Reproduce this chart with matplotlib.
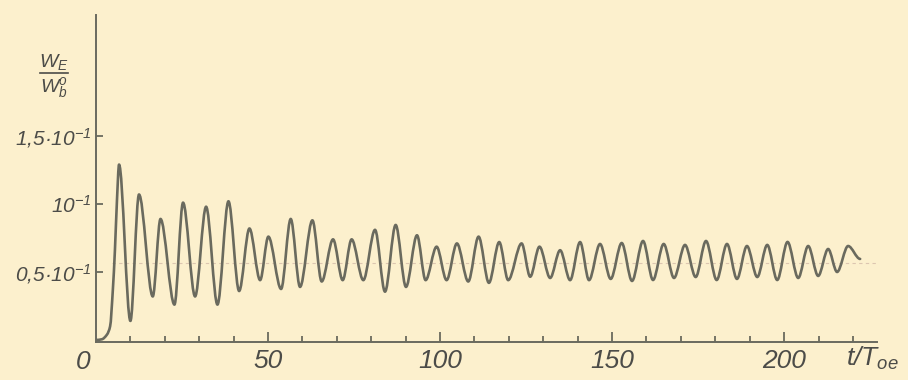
import matplotlib
matplotlib.use('Agg')
import matplotlib.pyplot as plt
import matplotlib.font_manager as fm
from matplotlib.lines import Line2D
from matplotlib.path import Path
from matplotlib.patches import PathPatch


# Data: time in units of T_oe, energy ratio W_E / W_b^0
# (start of the rise, then peaks and troughs one after the other)
t_vals = [0, 1.7, 3.2, 4.1, 4.9, 5.5, 6.1, 6.7,
          10.0, 12.5, 16.5, 18.75, 22.8, 25.3, 28.8, 32.0, 35.3, 38.5,
          41.6, 44.6, 47.7, 50.1, 53.8, 56.6, 59.3, 62.9, 65.6, 68.9,
          71.7, 74.3, 77.7, 81.1, 84.0, 87.1, 90.1, 93.3, 95.8, 99.0,
          101.9, 104.9, 108.2, 111.2, 114.2, 117.2, 119.8, 123.7, 126.2, 128.9,
          132.0, 134.9, 137.8, 140.7, 143.3, 146.5, 149.6, 152.8, 155.8, 159.0,
          161.9, 165.0, 168.0, 171.2, 174.3, 177.3, 180.4, 183.4, 186.3, 189.2,
          192.2, 195.1, 198.0, 201.0, 204.1, 207.0, 209.9, 212.8, 215.4, 218.6,
          222.1]
w_vals = [0, 0.0005, 0.004, 0.010, 0.037, 0.066, 0.103, 0.129,
          0.014, 0.107, 0.032, 0.089, 0.026, 0.101, 0.032, 0.098, 0.026, 0.102,
          0.036, 0.082, 0.044, 0.076, 0.0375, 0.089, 0.039, 0.088, 0.043, 0.074,
          0.044, 0.074, 0.044, 0.081, 0.0355, 0.0846, 0.039, 0.077, 0.044, 0.0686,
          0.044, 0.071, 0.043, 0.076, 0.042, 0.072, 0.044, 0.071, 0.0465, 0.0686,
          0.0456, 0.066, 0.044, 0.072, 0.044, 0.0706, 0.0449, 0.0713, 0.0434, 0.0728,
          0.0441, 0.0706, 0.0456, 0.0699, 0.0463, 0.0728, 0.0441, 0.0706, 0.0449, 0.0691,
          0.0463, 0.0699, 0.0441, 0.0721, 0.0456, 0.0691, 0.0471, 0.0669, 0.050, 0.0691,
          0.0596]

mean_level = 0.0566

x_major = [50, 100, 150, 200]
x_labels = ['50', '100', '150', '200']
x_minor = [10, 20, 30, 40, 60, 70, 80, 90, 110, 120, 130, 140,
           160, 170, 180, 190, 210, 220]
y_ticks = [0.05, 0.1, 0.15]
y_labels = ['0,5·10$^{-1}$', '10$^{-1}$', '1,5·10$^{-1}$']

# colours of the old paper scan
paper = '#fcf0cd'
ink = '#6a6a5e'
text_ink = '#4c4c48'

# narrow hand-lettered look if we have it
names = {f.name for f in fm.fontManager.ttflist}
fam = 'Liberation Sans Narrow' if 'Liberation Sans Narrow' in names else 'Liberation Sans'
plt.rcParams['font.family'] = [fam, 'DejaVu Sans']
plt.rcParams['font.style'] = 'italic'
plt.rcParams['mathtext.fontset'] = 'custom'
plt.rcParams['mathtext.rm'] = fam + ':italic'
plt.rcParams['mathtext.it'] = fam + ':italic'
plt.rcParams['mathtext.default'] = 'it'

fig = plt.figure(figsize=(9.08, 3.8), dpi=100)
fig.patch.set_facecolor(paper)
ax = fig.add_axes([96 / 908, 38 / 380, 781 / 908, 327 / 380])
ax.set_facecolor(paper)

# faint mean line
ax.axhline(mean_level, xmin=0.02, color='#dcc6b0', lw=0.8, ls=(0, (3, 3)), zorder=1)

# draw the curve through the read points as smooth bezier pieces
# (flat tangent at the peaks/troughs, like the hand drawn original)
n = len(t_vals)
slopes = []
for i in range(n):
    if i == 0 or i == n - 1:
        slopes.append(0.0)
        continue
    d1 = (w_vals[i] - w_vals[i - 1]) / (t_vals[i] - t_vals[i - 1])
    d2 = (w_vals[i + 1] - w_vals[i]) / (t_vals[i + 1] - t_vals[i])
    if d1 * d2 <= 0:
        slopes.append(0.0)
    else:
        slopes.append(2 / (1 / d1 + 1 / d2))

verts = [(t_vals[0], w_vals[0])]
codes = [Path.MOVETO]
for i in range(n - 1):
    h = (t_vals[i + 1] - t_vals[i]) / 3
    verts += [(t_vals[i] + h, w_vals[i] + slopes[i] * h),
              (t_vals[i + 1] - h, w_vals[i + 1] - slopes[i + 1] * h),
              (t_vals[i + 1], w_vals[i + 1])]
    codes += [Path.CURVE4] * 3
curve = PathPatch(Path(verts, codes), facecolor='none', edgecolor=ink,
                  lw=1.9, joinstyle='round', capstyle='round', zorder=3)
ax.add_patch(curve)

ax.set_xlim(0, 227)
ax.set_ylim(-0.0015, 0.239)

# only left and bottom axis
for s in ['top', 'right']:
    ax.spines[s].set_visible(False)
for s in ['left', 'bottom']:
    ax.spines[s].set_color(ink)
    ax.spines[s].set_linewidth(1.4)

ax.set_xticks(x_major)
ax.set_xticklabels(x_labels)
ax.set_xticks(x_minor, minor=True)
ax.set_yticks(y_ticks)
ax.set_yticklabels(y_labels)

ax.tick_params(axis='x', which='major', direction='in', length=7, width=1.3,
               color=ink, labelsize=19, labelcolor=text_ink, pad=5)
ax.tick_params(axis='x', which='minor', direction='in', length=4, width=1.3, color=ink)
ax.tick_params(axis='y', direction='in', length=5, width=1.3,
               color=ink, labelsize=15, labelcolor=text_ink, pad=3)

# origin label and axis names
fig.text(83 / 908, 1 - 362 / 380, '0', fontsize=19, color=text_ink,
         ha='center', va='center')
fig.text(872 / 908, 1 - 358 / 380, '$t/T_{oe}$', fontsize=19, color=text_ink,
         ha='center', va='center')
fig.text(54 / 908, 1 - 62 / 380, 'W$_E$', fontsize=14, color=text_ink,
         ha='center', va='center')
fig.text(54 / 908, 1 - 88 / 380, 'W$^o_b$', fontsize=14, color=text_ink,
         ha='center', va='center')
fig.add_artist(Line2D([40 / 908, 68 / 908], [1 - 73 / 380, 1 - 73 / 380],
                      transform=fig.transFigure, color=text_ink, lw=1.2))

fig.savefig('out.png', dpi=100, facecolor=paper)
